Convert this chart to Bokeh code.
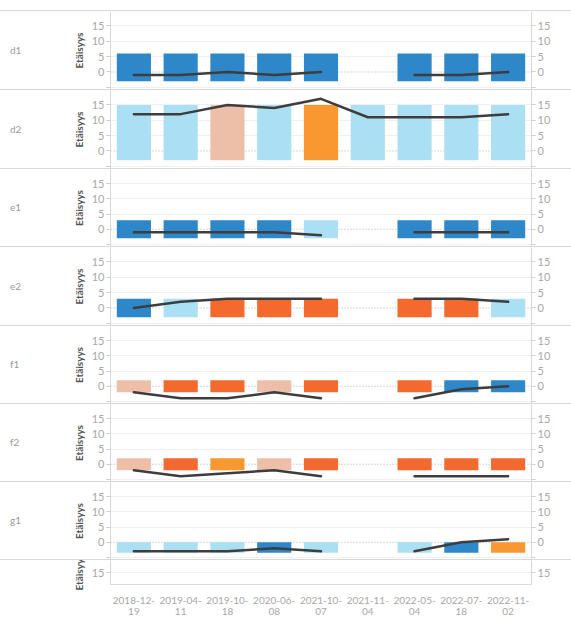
from bokeh.plotting import figure
from bokeh.models import (ColumnDataSource, FactorRange, Range1d, LinearAxis,
                          CategoricalAxis, FixedTicker, Span, Div, CustomJSTickFormatter)
from bokeh.layouts import column, row
from bokeh.transform import factor_cmap
from bokeh.embed import file_html
from bokeh.resources import INLINE

NaN = float("nan")

# ---------------- data ----------------
dates = ["2018-12-19", "2019-04-11", "2019-10-18", "2020-06-08", "2021-10-07",
         "2021-11-04", "2022-05-04", "2022-07-18", "2022-11-02"]
date_label_top = ["2018-12-", "2019-04-", "2019-10-", "2020-06-", "2021-10-",
                  "2021-11-", "2022-05-", "2022-07-", "2022-11-"]
date_label_bottom = ["19", "11", "18", "08", "07", "04", "04", "18", "02"]

rows = ["d1", "d2", "e1", "e2", "f1", "f2", "g1"]

d1_values = [-1, -1, 0, -1, 0, NaN, -1, -1, 0]
d2_values = [12, 12, 15, 14, 17, 11, 11, 11, 12]
e1_values = [-1, -1, -1, -1, -2, NaN, -1, -1, -1]
e2_values = [0, 2, 3, 3, 3, NaN, 3, 3, 2]
f1_values = [-2, -4, -4, -2, -4, NaN, -4, -1, 0]
f2_values = [-2, -4, -3, -2, -4, NaN, -4, -4, -4]
g1_values = [-3, -3, -3, -2, -3, NaN, -3, 0, 1]

d1_class = ["DB", "DB", "DB", "DB", "DB", None, "DB", "DB", "DB"]
d2_class = ["LB", "LB", "PE", "LB", "OR", "LB", "LB", "LB", "LB"]
e1_class = ["DB", "DB", "DB", "DB", "LB", None, "DB", "DB", "DB"]
e2_class = ["DB", "LB", "RO", "RO", "RO", None, "RO", "RO", "LB"]
f1_class = ["PE", "RO", "RO", "PE", "RO", None, "RO", "DB", "DB"]
f2_class = ["PE", "RO", "OR", "PE", "RO", None, "RO", "RO", "RO"]
g1_class = ["LB", "LB", "LB", "DB", "LB", None, "LB", "DB", "OR"]

band_bottom = [-3, -3, -3, -3, -2, -2, -3.5]
band_top = [6, 15, 3, 3, 2, 2, 0]

class_names = ["DB", "LB", "PE", "OR", "RO"]
class_colors = ["#2d87c8", "#abdff3", "#eebfa8", "#f99731", "#f4692d"]

y_ticks = [-5, 0, 5, 10, 15]

row_values = [d1_values, d2_values, e1_values, e2_values, f1_values, f2_values, g1_values]
row_classes = [d1_class, d2_class, e1_class, e2_class, f1_class, f2_class, g1_class]

# ---------------- styling ----------------
FONT = "Lato"
TICK_COLOR = "#a8a8a8"
LINE_GREY = "#d8d8d8"
FRAME_W = 421
ROW_HEIGHTS = [78, 78, 77, 78, 77, 77, 77]
LABEL_W = 60
TOTAL_W = 571


def style_yaxis(ax, with_label):
    ax.ticker = FixedTicker(ticks=y_ticks)
    ax.major_label_overrides = {-5: ""}
    ax.major_label_text_font = FONT
    ax.major_label_text_font_size = "11px"
    ax.major_label_text_color = TICK_COLOR
    ax.major_tick_out = 4
    ax.major_tick_in = 0
    ax.minor_tick_line_color = None
    ax.major_tick_line_color = "#cfcfcf"
    ax.axis_line_color = LINE_GREY
    ax.major_label_standoff = 2
    if with_label:
        ax.axis_label = "Etäisyys"
        ax.axis_label_text_font = FONT
        ax.axis_label_text_font_size = "10px"
        ax.axis_label_text_font_style = "bold"
        ax.axis_label_text_color = "#555555"
        ax.axis_label_standoff = 4


def make_fig(frame_h, y0, y1, show_x):
    p = figure(x_range=FactorRange(factors=dates), y_range=Range1d(y0, y1),
               frame_width=FRAME_W, frame_height=frame_h,
               min_border_left=110 - LABEL_W, min_border_right=TOTAL_W - 110 - FRAME_W,
               min_border_top=0, min_border_bottom=0,
               output_backend="svg", toolbar_location=None,
               x_axis_location="below" if show_x else None)
    p.outline_line_color = None
    p.background_fill_color = "white"
    p.border_fill_color = "white"
    p.xgrid.visible = False
    p.ygrid.ticker = FixedTicker(ticks=[-5, 5, 10, 15])
    p.ygrid.grid_line_color = "#f0f0f0"
    style_yaxis(p.yaxis[0], True)
    rax = LinearAxis()
    style_yaxis(rax, False)
    p.add_layout(rax, "right")
    return p


def sep():
    return Div(text="", width=TOTAL_W, height=1, margin=0,
               styles={"background-color": LINE_GREY})


def label_div(text, h):
    return Div(text=text, width=LABEL_W, height=h, margin=0,
               styles={"font-family": FONT, "font-size": "10px", "color": "#9a9a9a",
                       "line-height": f"{h}px", "text-indent": "10px",
                       "background-color": "white"})


def date_formatter(labels):
    return CustomJSTickFormatter(args=dict(dates=dates, labels=labels),
                                 code="const i = dates.indexOf(tick); return i >= 0 ? labels[i] : tick;")


children = [Div(text="", width=TOTAL_W, height=10, margin=0), sep()]

for i, name in enumerate(rows):
    h = ROW_HEIGHTS[i]
    p = make_fig(h, -5.7, 19.7, False)
    p.add_layout(Span(location=0, dimension="width", line_color="#b0b0b0",
                      line_dash="1 2", line_width=1, level="underlay"))
    cls = row_classes[i]
    xs = [d for d, c in zip(dates, cls) if c is not None]
    cs = [c for c in cls if c is not None]
    bar_src = ColumnDataSource(dict(x=xs, cls=cs,
                                    top=[band_top[i]] * len(xs),
                                    bottom=[band_bottom[i]] * len(xs)))
    p.vbar(x="x", top="top", bottom="bottom", width=0.73, source=bar_src,
           fill_color=factor_cmap("cls", class_colors, class_names),
           line_color=None)
    line_src = ColumnDataSource(dict(x=dates, y=row_values[i]))
    p.line(x="x", y="y", source=line_src, line_color="#3d3d3d", line_width=2.5,
           line_join="round", line_cap="round")
    children.append(row(label_div(name, h), p, spacing=0))
    children.append(sep())

# bottom (partially visible) row with the date axis
pb = make_fig(24, 11, 19, True)
xa = pb.xaxis[0]
xa.formatter = date_formatter(date_label_top)
xa.major_label_text_font = FONT
xa.major_label_text_font_size = "10px"
xa.major_label_text_color = TICK_COLOR
xa.major_tick_line_color = None
xa.axis_line_color = LINE_GREY
xa.major_label_standoff = 6
xb = CategoricalAxis(formatter=date_formatter(date_label_bottom))
xb.major_label_text_font = FONT
xb.major_label_text_font_size = "10px"
xb.major_label_text_color = TICK_COLOR
xb.major_tick_line_color = None
xb.major_tick_out = 0
xb.axis_line_color = None
xb.major_label_standoff = 1
pb.add_layout(xb, "below")
children.append(row(Div(text="", width=LABEL_W, height=24, margin=0), pb, spacing=0))

layout = column(children, spacing=0)
open("out.html", "w").write(file_html(layout, INLINE))
